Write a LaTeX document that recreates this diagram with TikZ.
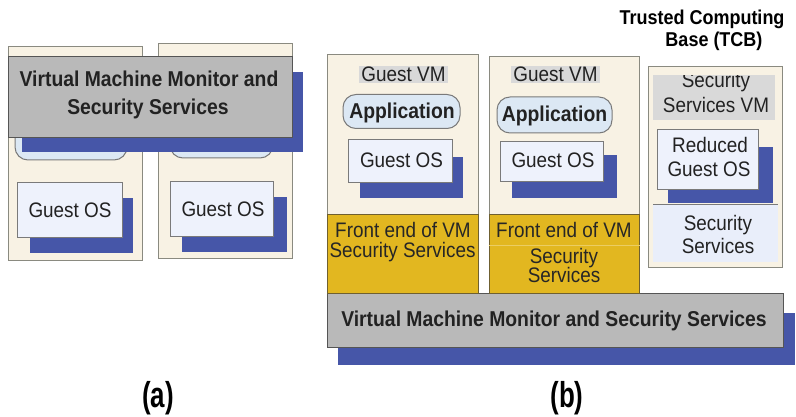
\documentclass[tikz,border=0pt]{standalone}
\usepackage{fontspec}
\setmainfont{Liberation Sans}[FakeStretch=0.9]
\definecolor{cream}{HTML}{F8F2E4}
\definecolor{framegray}{HTML}{8A8A80}
\definecolor{shadowblue}{HTML}{4656A8}
\definecolor{vmmgray}{HTML}{B9B9B9}
\definecolor{vmmline}{HTML}{555555}
\definecolor{osfill}{HTML}{EEF2FC}
\definecolor{osline}{HTML}{7A7A7A}
\definecolor{appfill}{HTML}{DCE8F4}
\definecolor{labelgray}{HTML}{D9D9D9}
\definecolor{feyellow}{HTML}{E2B720}
\definecolor{feline}{HTML}{6F6030}
\definecolor{secfill}{HTML}{E9EEFA}
\definecolor{textgray}{HTML}{222222}
\begin{document}
\begin{tikzpicture}[x=1pt,y=-1pt,
  every node/.style={inner sep=0pt, text=textgray},
  vmframe/.style={draw=framegray, fill=cream, line width=1pt},
  shadowbox/.style={fill=shadowblue, draw=none},
  vmmbox/.style={draw=vmmline, fill=vmmgray, line width=1pt},
  osbox/.style={draw=osline, fill=osfill, line width=1pt},
  appbox/.style={draw=osline, fill=appfill, line width=1pt, rounded corners=13pt},
  vmlabel/.style={fill=labelgray, inner xsep=2pt, inner ysep=1pt, anchor=base,
    font=\fontsize{21}{24}\selectfont},
  febox/.style={draw=feline, fill=feyellow, line width=1pt},
  line/.style={anchor=base, font=\fontsize{21}{24}\selectfont},
  boldline/.style={anchor=base, font=\bfseries\fontsize{21.5}{24}\selectfont},
  caption/.style={anchor=base, text=black,
    font=\bfseries\fontsize{36}{36}\selectfont}]
\useasboundingbox (0,0) rectangle (796,417);

% ---------- (a): security services inside the monitor ----------
\node[vmframe, minimum width=134pt, minimum height=213pt] (avm1) at (75,153.5) {};
\node[vmframe, minimum width=134pt, minimum height=214pt] (avm2) at (225,151) {};
\node[appbox, minimum width=112pt, minimum height=55pt] (aapp1) at (71,132.5) {};
\node[appbox, minimum width=103pt, minimum height=53pt] (aapp2) at (221.5,131.5) {};
\fill[shadowbox] (22,72) rectangle (303,152);
\node[vmmbox, minimum width=284pt, minimum height=81pt] (avmm) at (150,97.5) {};
\node[boldline] (avmm1) at (149,87) {Virtual Machine Monitor and};
\node[boldline] (avmm2) at (148,115) {Security Services};
\fill[shadowbox] (30,198) rectangle (133,253);
\node[osbox, minimum width=105pt, minimum height=55pt] (aos1) at (69.5,210.5) {};
\node[line] (aos1t) at (70,218) {Guest OS};
\fill[shadowbox] (182,197) rectangle (287,252);
\node[osbox, minimum width=103pt, minimum height=55pt] (aos2) at (221.5,209.5) {};
\node[line] (aos2t) at (223,217) {Guest OS};
\node[caption] (capa) at (158,407) {\scalebox{0.8}[1]{(a)}};

% ---------- (b): front ends in guest VMs, services in a separate VM ----------
\fill[shadowbox] (338,313) rectangle (795,365);
\node[vmmbox, minimum width=456pt, minimum height=54pt] (bvmm) at (555,320) {};
\node[boldline] (bvmmt) at (554,326) {Virtual Machine Monitor and Security Services};

% guest VM 1
\node[vmframe, minimum width=151pt, minimum height=238pt] (bvm1) at (402.5,174) {};
\node[febox, minimum width=151pt, minimum height=78pt] (bfe1) at (402.5,254) {};
\node[line, text=black!85] (bfe1a) at (403,237) {Front end of VM};
\node[line, text=black!85] (bfe1b) at (402.5,258) {Security Services};
\node[vmlabel] (blab1) at (403.5,82) {Guest VM};
\node[appbox, minimum width=117pt, minimum height=34pt] (bapp1) at (401.5,111.5) {};
\node[boldline] (bapp1t) at (402,119) {Application};
\fill[shadowbox] (360,157) rectangle (463,198);
\node[osbox, minimum width=104pt, minimum height=43pt] (bos1) at (400,161.5) {};
\node[line] (bos1t) at (401.5,167.5) {Guest OS};

% guest VM 2
\node[vmframe, minimum width=150pt, minimum height=236pt] (bvm2) at (564,175) {};
\node[febox, minimum width=150pt, minimum height=78pt] (bfe2) at (564,254) {};
\draw[feyellow!70!white, line width=0.8pt] (bfe2.west |- 0,245) -- (bfe2.east |- 0,245);
\node[line, text=black!85] (bfe2a) at (564,237) {Front end of VM};
\node[line, text=black!85] (bfe2b) at (564,263) {Security};
\node[line, text=black!85] (bfe2c) at (564,282) {Services};
\node[vmlabel] (blab2) at (555.5,82) {Guest VM};
\node[appbox, minimum width=115pt, minimum height=36pt] (bapp2) at (554.5,115) {};
\node[boldline] (bapp2t) at (554.5,122) {Application};
\fill[shadowbox] (512,155) rectangle (617,198);
\node[osbox, minimum width=103pt, minimum height=40pt] (bos2) at (551.5,162) {};
\node[line] (bos2t) at (553,168) {Guest OS};

% trusted computing base: the security services VM
\node[anchor=base, text=black, font=\bfseries\fontsize{20}{22}\selectfont] (tcb1) at (702,25) {Trusted Computing};
\node[anchor=base, text=black, font=\bfseries\fontsize{20}{22}\selectfont] (tcb2) at (714,47) {Base (TCB)};
\node[vmframe, minimum width=134pt, minimum height=200pt] (svm) at (715,167) {};
\fill[labelgray] (653,75) rectangle (775,120);
\begin{scope}
  \clip (653,76) rectangle (775,120);
  \node[line] (svm1) at (716,88) {Security};
  \node[line] (svm2) at (716,113) {Services VM};
\end{scope}
\fill[shadowbox] (668,147) rectangle (773,203);
\node[osbox, minimum width=101pt, minimum height=60pt] (ros) at (707.5,160) {};
\node[line] (ros1) at (710,153) {Reduced};
\node[line] (ros2) at (709,177) {Guest OS};
\fill[secfill] (653,205) rectangle (778,262);
\draw[osline, line width=1pt] (653,205) -- (778,205);
\node[line] (sss1) at (718,230) {Security};
\node[line] (sss2) at (718,254) {Services};

\node[caption] (capb) at (567,407) {\scalebox{0.8}[1]{(b)}};
\end{tikzpicture}
\end{document}
